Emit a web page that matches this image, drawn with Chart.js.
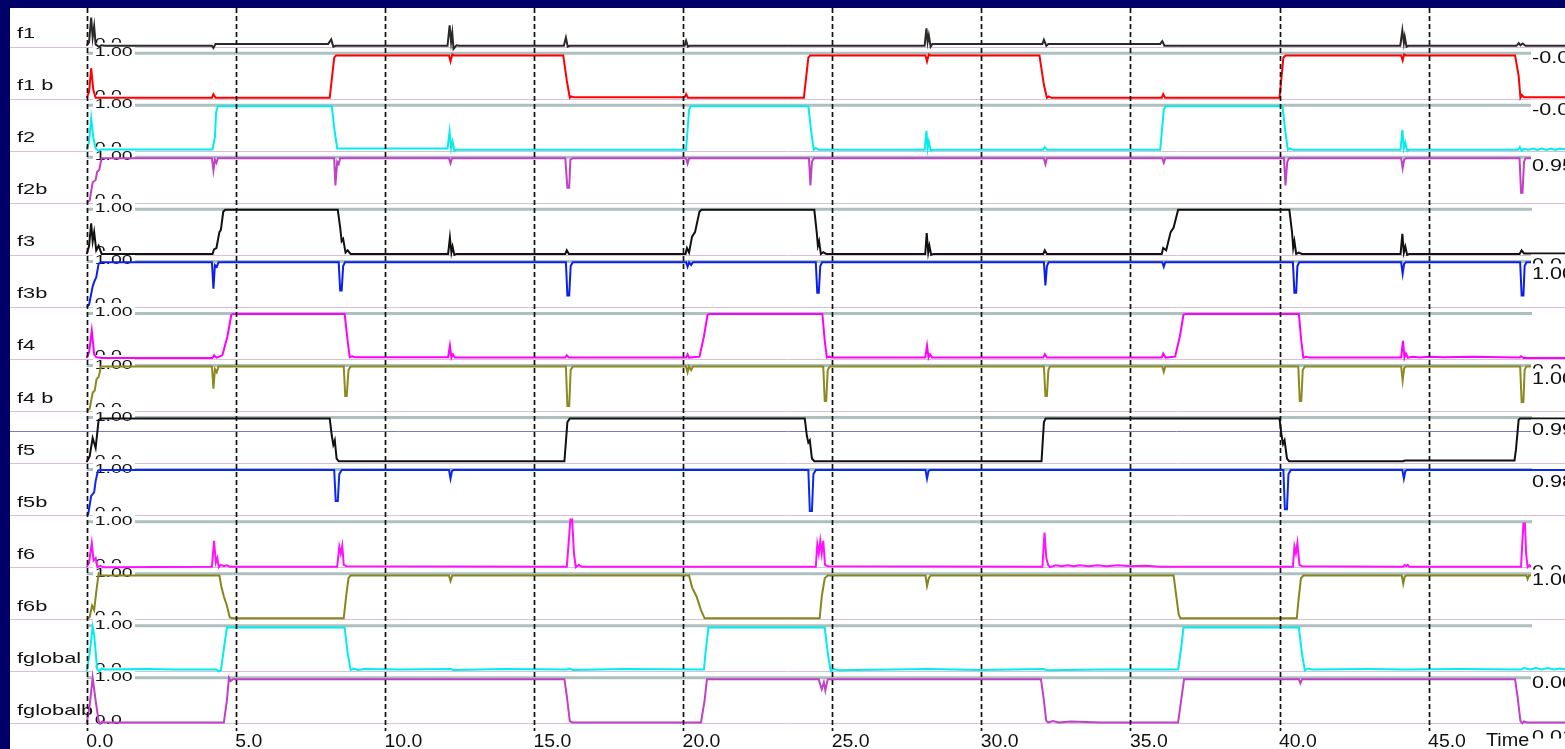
<!DOCTYPE html>
<html><head><meta charset="utf-8">
<script src="https://cdn.jsdelivr.net/npm/chart.js@4.4.1/dist/chart.umd.min.js"></script>
<style>
html,body{margin:0;padding:0;background:#000068;width:1565px;height:749px;overflow:hidden}
#wrap{position:absolute;left:10px;top:8px;width:1555px;height:741px;background:#fff}
canvas{display:block}
</style></head><body>
<div id="wrap"><canvas id="c" width="1555" height="741"></canvas></div>
<script>
// ---------- data ----------
const signalNames = ['f1','f1 b','f2','f2b','f3','f3b','f4','f4 b','f5','f5b','f6','f6b','fglobal','fglobalb'];
const xTicks = [0,5,10,15,20,25,30,35,40,45];
const xTickLabels = ['0.0','5.0','10.0','15.0','20.0','25.0','30.0','35.0','40.0','45.0'];
const rowTopLabel = '1.00';
const rowBaseLabel = '0.0';
const axisTitle = 'Time';
const cursorLabels = ['-0.0','-0.0','0.95','0.0','1.00','0.0','1.00','0.99','0.98','0.0','1.00','0.00','0.01'];
const f5Marker = 0.7;

// each series: time, value (0..1) pairs
const f1 = [0,0.02, 0.08,0.1, 0.15,0.64, 0.2,0.2, 0.25,0.45, 0.3,0.05, 0.4,0, 0.5,0.03, 0.6,0.02,
 4.2,0.02, 4.25,-0.03, 4.32,0.06, 8.1,0.06, 8.2,0.16, 8.27,0, 8.35,0.02,
 12.1,0.02, 12.17,0.47, 12.22,0.1, 12.26,0.3, 12.3,-0.05, 12.4,0.03, 12.5,0.02,
 16.0,0.02, 16.07,0.2, 16.13,0, 16.2,0.02,
 20.05,0.02, 20.1,0.13, 20.16,0, 20.22,0.02,
 28.1,0.02, 28.16,0.4, 28.2,0.1, 28.24,0.25, 28.3,0, 28.36,0.06,
 32.05,0.06, 32.1,0.15, 32.18,0.02, 32.25,0.06,
 36.0,0.06, 36.07,0.12, 36.14,0.02,
 44.05,0.02, 44.12,0.36, 44.17,0.08, 44.2,0.22, 44.26,0, 44.32,0.02,
 47.95,0.02, 48.02,0.08, 48.08,0.03, 48.15,0.07, 48.25,0.02, 49.6,0.02];
const f1b = [0,0.02, 0.08,0.15, 0.15,0.67, 0.22,0.2, 0.3,0.02,
 4.2,0.02, 4.25,0.1, 4.32,0.02,
 8.15,0.02, 8.3,0.9, 8.36,0.95,
 12.15,0.95, 12.2,0.82, 12.26,0.97, 12.32,0.95,
 15.98,0.95, 16.1,0.4, 16.2,0.02, 16.25,0.05, 16.35,0.03,
 20.05,0.03, 20.1,0.1, 20.16,0.02,
 24.05,0.02, 24.2,0.9, 24.26,0.95,
 28.13,0.95, 28.18,0.82, 28.24,0.97, 28.3,0.95,
 31.95,0.95, 32.1,0.3, 32.2,0.02, 32.26,0.05, 32.35,0.02,
 36.05,0.02, 36.1,0.1, 36.16,0.02,
 40.0,0.02, 40.13,0.9, 40.2,0.95,
 44.08,0.95, 44.13,0.84, 44.18,0.97, 44.24,0.95,
 47.9,0.95, 48.02,0.5, 48.08,0.02, 48.13,0.08, 48.2,0.03, 49.6,0.03];
const f2 = [0,0.02, 0.08,0.2, 0.15,0.71, 0.22,0.3, 0.3,0.05, 0.4,0, 0.5,0.03,
 4.22,0.03, 4.3,0.3, 4.34,0.85, 4.4,0.98,
 8.22,0.98, 8.3,0.5, 8.4,0.05, 8.5,0.05,
 12.1,0.05, 12.17,0.42, 12.22,0.05, 12.27,0.2, 12.33,0, 12.4,0.02,
 20.1,0.02, 20.2,0.9, 20.26,0.98,
 24.2,0.98, 24.3,0.4, 24.38,0.02, 24.45,0.06, 24.55,0.02,
 28.1,0.02, 28.16,0.44, 28.2,0.05, 28.24,0.2, 28.3,0, 28.38,0.02,
 32.08,0.02, 32.13,0.08, 32.2,0.02,
 36.0,0.02, 36.12,0.9, 36.18,0.98,
 40.1,0.98, 40.2,0.4, 40.28,0.02, 40.35,0.05, 40.45,0.02,
 44.06,0.02, 44.12,0.46, 44.17,0.05, 44.22,0.18, 44.28,0, 44.35,0.02,
 48.0,0.02, 48.06,0.08, 48.12,0, 48.2,0.04, 48.35,0.02, 48.5,0.05, 48.65,0.02, 48.8,0.05, 48.95,0.02, 49.1,0.05, 49.25,0.02, 49.4,0.05, 49.6,0.03];
const f2b = [0,0, 0.1,0.05, 0.2,0.45, 0.3,0.5, 0.35,0.68, 0.42,0.72, 0.5,0.98,
 4.2,0.98, 4.25,0.71, 4.3,0.95, 4.35,0.88, 4.4,0.98,
 8.3,0.98, 8.34,0.38, 8.4,0.9, 8.45,0.85, 8.5,0.98,
 12.15,0.98, 12.2,0.87, 12.25,0.98,
 16.05,0.98, 16.12,0.33, 16.18,0.33, 16.22,0.95, 16.3,0.98,
 20.1,0.98, 20.15,0.86, 20.2,0.98,
 24.22,0.98, 24.27,0.38, 24.32,0.9, 24.38,0.98,
 32.1,0.98, 32.15,0.85, 32.2,0.98,
 36.07,0.98, 36.12,0.88, 36.17,0.98,
 40.15,0.98, 40.2,0.38, 40.26,0.9, 40.32,0.98,
 44.08,0.98, 44.13,0.76, 44.18,0.95, 44.24,0.98,
 48.05,0.98, 48.1,0.22, 48.15,0.22, 48.2,0.9, 48.25,0.98, 49.6,0.98];
const f3 = [0,0.02, 0.08,0.2, 0.15,0.69, 0.2,0.3, 0.25,0.5, 0.32,0.1, 0.4,0.2, 0.5,0.02,
 4.22,0.02, 4.27,0.12, 4.35,0.15, 4.45,0.5, 4.5,0.55, 4.58,0.95, 4.65,0.99,
 8.42,0.99, 8.5,0.6, 8.55,0.3, 8.6,0.35, 8.68,0.05, 8.75,0.1, 8.85,0.02,
 12.12,0.02, 12.18,0.38, 12.23,0.05, 12.27,0.18, 12.33,0, 12.4,0.02,
 16.05,0.02, 16.1,0.1, 16.17,0.02,
 20.08,0.02, 20.13,0.15, 20.2,0.05, 20.3,0.4, 20.4,0.5, 20.55,0.95, 20.62,0.99,
 24.4,0.99, 24.48,0.5, 24.52,0.2, 24.56,0.3, 24.62,0.02, 24.7,0.06, 24.8,0.02,
 28.12,0.02, 28.17,0.48, 28.22,0.05, 28.26,0.2, 28.32,0, 28.4,0.02,
 32.08,0.02, 32.13,0.1, 32.2,0.02,
 36.05,0.02, 36.1,0.15, 36.2,0.1, 36.35,0.5, 36.45,0.6, 36.6,0.99,
 40.33,0.99, 40.42,0.5, 40.46,0.15, 40.5,0.3, 40.56,0.02, 40.65,0.05, 40.75,0.02,
 44.06,0.02, 44.12,0.46, 44.17,0.05, 44.22,0.18, 44.28,0, 44.36,0.02,
 48.05,0.02, 48.12,0.1, 48.2,0.03, 49.6,0.03];
const f3b = [0,0, 0.08,0.05, 0.2,0.45, 0.25,0.55, 0.32,0.65, 0.4,0.95, 0.5,0.98,
 4.2,0.98, 4.25,0.4, 4.3,0.92, 4.36,0.88, 4.42,0.98,
 8.45,0.98, 8.5,0.36, 8.55,0.36, 8.6,0.9, 8.66,0.98,
 16.07,0.98, 16.12,0.25, 16.18,0.25, 16.23,0.9, 16.3,0.98,
 20.1,0.98, 20.15,0.88, 20.2,0.98, 20.27,0.92, 20.33,0.98,
 24.45,0.98, 24.5,0.31, 24.55,0.31, 24.6,0.9, 24.66,0.98,
 32.1,0.98, 32.15,0.47, 32.2,0.9, 32.26,0.98,
 36.07,0.98, 36.12,0.88, 36.17,0.98,
 40.45,0.98, 40.5,0.31, 40.56,0.31, 40.6,0.9, 40.66,0.98,
 44.08,0.98, 44.13,0.73, 44.18,0.95, 44.24,0.98,
 48.07,0.98, 48.12,0.25, 48.18,0.25, 48.22,0.9, 48.28,0.98, 49.6,0.98];
const f4 = [0,0.02, 0.08,0.15, 0.17,0.62, 0.25,0.1, 0.32,0.04, 0.5,0.02,
 4.22,0.02, 4.27,0.08, 4.35,0.03, 4.55,0.08, 4.72,0.5, 4.85,0.97, 4.92,0.99,
 8.65,0.99, 8.75,0.4, 8.82,0.04, 8.9,0.06, 9.0,0.04,
 12.12,0.04, 12.18,0.29, 12.23,0.03, 12.28,0.1, 12.35,0.03,
 16.05,0.03, 16.1,0.08, 16.17,0.03,
 20.1,0.03, 20.15,0.1, 20.2,0.03, 20.55,0.05, 20.7,0.5, 20.82,0.97, 20.9,0.99,
 24.67,0.99, 24.75,0.4, 24.82,0.03, 24.9,0.05, 25.0,0.03,
 28.12,0.03, 28.18,0.29, 28.23,0.03, 28.28,0.1, 28.35,0.03,
 32.08,0.03, 32.13,0.1, 32.2,0.03,
 36.05,0.03, 36.1,0.12, 36.18,0.03, 36.5,0.05, 36.66,0.5, 36.78,0.97, 36.85,0.99,
 40.65,0.99, 40.73,0.4, 40.8,0.03, 40.9,0.05, 41.0,0.03,
 44.08,0.03, 44.14,0.4, 44.19,0.03, 44.24,0.12, 44.3,0.03, 44.5,0.05, 44.7,0.03, 45.0,0.05, 45.5,0.04, 46.5,0.05, 47.5,0.04,
 48.05,0.03, 48.1,0.06, 48.18,0.02, 49.6,0.02];
const f4b = [0,0, 0.1,0.05, 0.2,0.4, 0.27,0.45, 0.33,0.7, 0.4,0.75, 0.48,0.98,
 4.2,0.98, 4.25,0.49, 4.3,0.92, 4.36,0.85, 4.42,0.98,
 8.62,0.98, 8.67,0.33, 8.72,0.33, 8.78,0.9, 8.85,0.98,
 16.07,0.98, 16.12,0.11, 16.18,0.11, 16.23,0.9, 16.3,0.98,
 20.1,0.98, 20.15,0.85, 20.2,0.98, 20.27,0.9, 20.33,0.98,
 24.7,0.98, 24.75,0.22, 24.8,0.22, 24.85,0.9, 24.92,0.98,
 32.1,0.98, 32.15,0.33, 32.2,0.33, 32.25,0.9, 32.3,0.98,
 36.07,0.98, 36.12,0.86, 36.17,0.98,
 40.63,0.98, 40.68,0.22, 40.73,0.22, 40.78,0.9, 40.85,0.98,
 44.08,0.98, 44.13,0.67, 44.18,0.94, 44.24,0.98,
 48.07,0.98, 48.12,0.2, 48.18,0.2, 48.22,0.9, 48.28,0.98, 49.6,0.98];
const f5 = [0,0.02, 0.1,0.15, 0.2,0.55, 0.3,0.33, 0.4,0.95, 0.5,0.98,
 8.15,0.98, 8.22,0.6, 8.27,0.4, 8.32,0.5, 8.38,0.1, 8.45,0.04,
 16.02,0.04, 16.12,0.9, 16.2,0.98,
 24.08,0.98, 24.15,0.6, 24.2,0.45, 24.25,0.5, 24.32,0.1, 24.4,0.04,
 32.02,0.04, 32.1,0.9, 32.16,0.98,
 40.0,0.98, 40.07,0.6, 40.12,0.42, 40.17,0.5, 40.25,0.1, 40.32,0.04,
 44.15,0.04, 44.2,0.055,
 47.88,0.055, 47.93,0.3, 48.02,0.95, 48.07,0.98, 49.6,0.98];
const f5b = [0,0, 0.05,0.02, 0.15,0.42, 0.25,0.5, 0.3,0.75, 0.38,0.98, 0.45,0.99,
 8.3,0.99, 8.35,0.31, 8.42,0.31, 8.47,0.9, 8.55,0.99,
 12.15,0.99, 12.2,0.8, 12.25,0.97, 12.3,0.99,
 24.2,0.99, 24.25,0.09, 24.32,0.09, 24.37,0.9, 24.45,0.99,
 28.13,0.99, 28.18,0.8, 28.23,0.97, 28.28,0.99,
 40.13,0.99, 40.18,0.13, 40.25,0.13, 40.3,0.9, 40.38,0.99,
 44.12,0.99, 44.17,0.8, 44.22,0.97, 44.27,0.99, 49.6,0.99];
const f6 = [0,0, 0.08,0.1, 0.17,0.53, 0.23,0.15, 0.3,0.2, 0.36,0, 0.45,0.03, 0.55,0,
 4.2,0.01, 4.27,0.58, 4.33,0.1, 4.38,0.2, 4.43,0, 4.5,0.05, 4.6,0.02, 4.7,0.04, 4.8,0.01,
 8.4,0.01, 8.47,0.45, 8.52,0.3, 8.57,0.47, 8.62,0.05, 8.7,0.02,
 16.1,0.01, 16.17,0.6, 16.22,1.05, 16.28,1.05, 16.34,0.3, 16.4,0, 16.5,0.05, 16.6,0.01,
 24.45,0.01, 24.5,0.5, 24.55,0.3, 24.6,0.58, 24.65,0.3, 24.7,0.58, 24.76,0.05, 24.85,0.02,
 32.05,0.01, 32.12,0.76, 32.18,0.2, 32.24,0.05, 32.3,0, 32.5,0.04, 32.7,0.02, 32.9,0.04, 33.1,0.02, 33.3,0.04, 33.6,0.02, 33.9,0.04, 34.2,0.02, 34.6,0.04, 35.0,0.02, 35.5,0.03, 36.0,0.01,
 40.45,0.01, 40.5,0.45, 40.55,0.3, 40.6,0.53, 40.67,0.05, 40.75,0.02,
 44.15,0.01, 44.2,0.05, 44.25,0.02, 44.3,0.05, 44.35,0.01,
 48.1,0.01, 48.14,0.5, 48.18,0.96, 48.23,0.96, 48.27,0.3, 48.32,0, 48.38,0.04, 48.45,0.01, 49.6,0.01];
const f6b = [0,0, 0.1,0.05, 0.18,0.3, 0.25,0.2, 0.32,0.6, 0.4,1.0, 0.45,0.96,
 4.45,0.96, 4.52,0.7, 4.6,0.5, 4.7,0.3, 4.8,0.04, 4.9,0.02,
 8.62,0.02, 8.7,0.5, 8.78,0.9, 8.85,0.96,
 12.15,0.96, 12.2,0.84, 12.26,0.96,
 20.2,0.96, 20.3,0.7, 20.45,0.5, 20.6,0.2, 20.72,0.02,
 24.58,0.02, 24.65,0.5, 24.75,0.9, 24.85,0.96,
 28.13,0.96, 28.18,0.73, 28.24,0.9, 28.3,0.96,
 36.45,0.96, 36.5,0.7, 36.56,0.4, 36.62,0.1, 36.68,0.02,
 40.58,0.02, 40.65,0.5, 40.72,0.9, 40.8,0.96,
 44.1,0.96, 44.15,0.78, 44.2,0.94, 44.26,0.96,
 48.28,0.96, 48.32,0.88, 48.37,0.96, 49.6,0.96];
const fglobal = [0,0, 0.1,0.4, 0.2,0.98, 0.25,0.8, 0.35,0.05, 0.42,0, 0.5,0.06, 0.6,0.04,
 2.0,0.05, 3.0,0.04, 4.35,0.04, 4.42,0, 4.5,0.02, 4.58,0.4, 4.7,0.96,
 8.65,0.96, 8.75,0.4, 8.85,0.03, 8.95,0.06, 9.1,0.03, 9.3,0.05, 10.5,0.04, 12.2,0.05, 12.3,0.03, 14,0.05, 16.1,0.04, 16.2,0.06, 16.3,0.03, 18,0.05, 20.7,0.04,
 20.75,0.4, 20.85,0.96,
 24.75,0.96, 24.85,0.4, 24.95,0, 25.05,0.05, 25.2,0.02, 27,0.04, 28.2,0.05, 30,0.03, 32.1,0.05, 32.2,0.02, 34,0.04, 36.6,0.04,
 36.7,0.5, 36.78,0.96,
 40.65,0.96, 40.75,0.4, 40.85,0.02, 40.95,0.06, 41.1,0.04, 43,0.05, 44.2,0.04, 46,0.05, 48.1,0.04, 48.2,0.07, 48.4,0.04, 48.6,0.07, 48.8,0.04, 49.0,0.07, 49.2,0.04, 49.4,0.06, 49.6,0.04];
const fglobalb = [0,0, 0.1,0.4, 0.2,1.0, 0.3,0.5, 0.4,0.05, 0.45,-0.01, 0.52,0.04, 0.6,0.02,
 4.6,0.02, 4.7,0.5, 4.77,1.0, 4.83,0.93, 4.9,0.97,
 16.02,0.97, 16.1,0.6, 16.2,0.05, 16.28,0.02,
 20.6,0.02, 20.72,0.5, 20.8,0.97,
 24.55,0.97, 24.6,0.85, 24.65,0.75, 24.72,0.9, 24.77,0.72, 24.85,0.97,
 32.0,0.97, 32.08,0.6, 32.18,0.05, 32.25,0.02, 32.4,0.05, 32.6,0.02, 33,0.04, 34,0.02, 36.6,0.02,
 36.7,0.5, 36.8,0.97,
 40.65,0.97, 40.7,0.88, 40.76,0.97,
 47.9,0.97, 47.98,0.6, 48.08,0.05, 48.14,0, 48.2,0.04, 48.3,0.02, 49.6,0.02];

const series = [f1,f1b,f2,f2b,f3,f3b,f4,f4b,f5,f5b,f6,f6b,fglobal,fglobalb];

// ---------- style / layout ----------
const colors = ['#2a2a2a','#ff0000','#00eeee','#c040c8','#111111','#0a1ef0','#ff00ff','#8a8a1e',
                '#111111','#0a28f0','#ff10ff','#86861e','#00eeee','#c040c8'];
const NROWS = signalNames.length;
const PITCH = 52.05, AMP = 45.5;
const PX_PER_T = 29.82, X0 = 76.7;           // canvas px of t = 0
const CW = 1555, CH = 741;
const Y_MAX = 715.3, Y_MIN = Y_MAX - CH;
function rowY(i, v){ return (NROWS - 1 - i) * PITCH + v * AMP; }

// right-edge cursor label layout: [label index, centre y in canvas px]
const cursorLayout = [[0,49.5],[1,101],[2,157],[3,256],[4,265],[5,362],[6,370],[7,421],[8,473],[9,563],[10,571],[11,674]];

function txt(ctx, s, x, y, px, sx, color){
  ctx.save();
  ctx.font = px + 'px "Liberation Sans", Arial, sans-serif';
  ctx.translate(x, y);
  ctx.scale(sx, 1);
  ctx.textBaseline = 'alphabetic';
  ctx.textAlign = 'left';
  ctx.fillStyle = color || '#111';
  ctx.fillText(s, 0, 0);
  ctx.restore();
}

const deco = {
  id: 'deco',
  beforeDatasetsDraw(chart){
    const ctx = chart.ctx, xs = chart.scales.x, ys = chart.scales.y;
    const gx0 = xs.getPixelForValue(0);
    ctx.save();
    for (let i = 0; i < NROWS; i++){
      const yb = Math.round(ys.getPixelForValue(rowY(i,0))) + 0.5;
      ctx.strokeStyle = '#d6c0d6'; ctx.lineWidth = 1;
      ctx.beginPath(); ctx.moveTo(0, yb); ctx.lineTo(CW, yb); ctx.stroke();
      const yt = ys.getPixelForValue(rowY(i,1));
      ctx.strokeStyle = '#aebfbf'; ctx.lineWidth = 3;
      ctx.beginPath(); ctx.moveTo(gx0, yt); ctx.lineTo(1522, yt); ctx.stroke();
    }
    const ym = Math.round(ys.getPixelForValue(rowY(8, f5Marker))) + 0.5;
    ctx.strokeStyle = '#7b7bc4'; ctx.lineWidth = 1;
    ctx.beginPath(); ctx.moveTo(0, ym); ctx.lineTo(CW, ym); ctx.stroke();
    for (let i = 0; i < NROWS; i++){
      const yb = ys.getPixelForValue(rowY(i,0));
      txt(ctx, rowBaseLabel, gx0 + 8, yb + 0.5, 13, 1.5);
    }
    for (let i = 0; i < NROWS; i++){
      const yt = ys.getPixelForValue(rowY(i,1));
      ctx.fillStyle = '#fff';
      ctx.fillRect(gx0 + 6.3, yt - 10.5, 42, 15);
      txt(ctx, rowTopLabel, gx0 + 8, yt + 3, 13, 1.5);
    }
    for (let i = 0; i < NROWS; i++){
      const yb = ys.getPixelForValue(rowY(i,0));
      txt(ctx, signalNames[i], 7, yb - 8.5, 15, 1.45);
    }
    ctx.restore();
  },
  afterDatasetsDraw(chart){
    const ctx = chart.ctx, xs = chart.scales.x;
    ctx.save();
    ctx.strokeStyle = '#111'; ctx.lineWidth = 1.7; ctx.setLineDash([5,3]);
    xTicks.forEach(t => {
      const x = Math.round(xs.getPixelForValue(t)) + 0.5;
      ctx.beginPath(); ctx.moveTo(x, 0); ctx.lineTo(x, 723); ctx.stroke();
    });
    ctx.setLineDash([]);
    xTicks.forEach((t, k) => {
      const x = xs.getPixelForValue(t);
      txt(ctx, xTickLabels[k], x - 0.5, 738.7, 18, 1.08);
    });
    cursorLayout.forEach(([k, cy]) => {
      ctx.fillStyle = '#fff';
      ctx.fillRect(1521, cy - 9.5, 40, 18);
      txt(ctx, cursorLabels[k], 1522, cy + 5.75, 16, 1.35);
    });
    txt(ctx, axisTitle, 1476, 737.5, 18, 1.1);
    ctx.save();
    ctx.beginPath(); ctx.rect(1519, 715, 40, 15.5); ctx.clip();
    txt(ctx, cursorLabels[12], 1522, 733.5, 16, 1.35);
    ctx.restore();
    ctx.restore();
  }
};

const datasets = series.map((s, i) => {
  const pts = [];
  for (let k = 0; k < s.length; k += 2) pts.push({x: s[k], y: rowY(i, s[k+1])});
  return {label: signalNames[i], data: pts, showLine: true, borderColor: colors[i],
          borderWidth: 2, pointRadius: 0, tension: 0, fill: false, clip: 0};
});

new Chart(document.getElementById('c'), {
  type: 'scatter',
  data: {datasets},
  options: {
    responsive: false, animation: false, events: [],
    layout: {padding: 0},
    plugins: {legend: {display: false}, tooltip: {enabled: false}},
    scales: {
      x: {type: 'linear', display: false, min: -X0 / PX_PER_T, max: (CW - X0) / PX_PER_T,
          afterBuildTicks: s => { s.ticks = xTicks.map(v => ({value: v})); }},
      y: {type: 'linear', display: false, min: Y_MIN, max: Y_MAX}
    }
  },
  plugins: [deco]
});
</script></body></html>
